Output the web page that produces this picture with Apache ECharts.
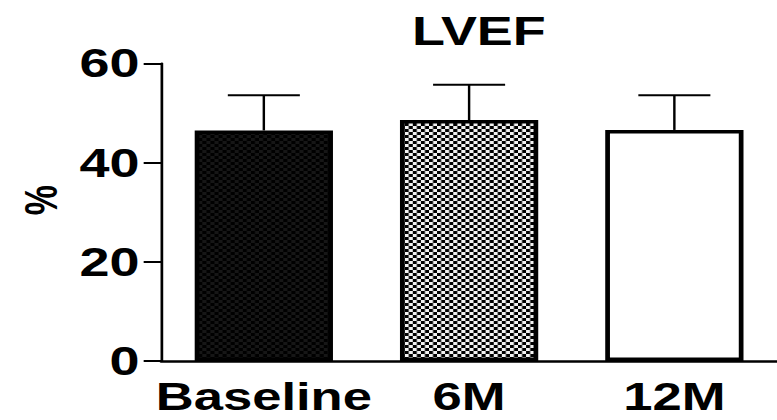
<!DOCTYPE html>
<html>
<head>
<meta charset="utf-8">
<script src="https://cdn.jsdelivr.net/npm/echarts@6/dist/echarts.min.js"></script>
<style>
html,body{margin:0;padding:0;background:#fff;overflow:hidden;}
#chart{width:576px;height:420px;transform:scaleX(1.348958);transform-origin:0 0;}
</style>
</head>
<body>
<div id="chart"></div>
<script>
const title = 'LVEF';
const yName = '%';
const categories = ['Baseline', '6M', '12M'];
const means = [46.5, 48.6, 46.6];
const sds = [7.1, 7.1, 7.0];
const yMin = 0, yMax = 60, yStep = 20;

function checker(c1, c2, cell) {
  const cv = document.createElement('canvas');
  cv.width = cell * 2; cv.height = cell * 2;
  const ctx = cv.getContext('2d');
  ctx.fillStyle = c1; ctx.fillRect(0, 0, cell * 2, cell * 2);
  ctx.fillStyle = c2;
  ctx.fillRect(0, 0, cell, cell);
  ctx.fillRect(cell, cell, cell, cell);
  return cv;
}
const fills = [
  { image: checker('#000000', '#161616', 3), repeat: 'repeat' },
  { image: checker('#000000', '#f2f2f2', 3), repeat: 'repeat' },
  '#ffffff'
];

const FONT = '"Liberation Sans", Arial, sans-serif';
const chart = echarts.init(document.getElementById('chart'), null, { renderer: 'svg' });
chart.setOption({
  animation: false,
  backgroundColor: '#ffffff',
  title: {
    text: title, left: 350, top: 6, textAlign: 'center',
    textStyle: { fontFamily: FONT, fontWeight: 'bold', fontSize: 40, color: '#000' }
  },
  grid: { left: 119.5, top: 63.5, width: 462, height: 297.5, containLabel: false },
  xAxis: {
    type: 'category', data: categories, boundaryGap: true,
    axisLine: { lineStyle: { color: '#000', width: 2.5 } },
    axisTick: { alignWithLabel: true, length: 12, lineStyle: { color: '#000', width: 2 } },
    axisLabel: { interval: 0, hideOverlap: false, margin: 16, fontFamily: FONT, fontWeight: 'bold', fontSize: 39, color: '#000' },
    splitLine: { show: false }
  },
  yAxis: {
    type: 'value', min: yMin, max: yMax, interval: yStep,
    name: yName, nameLocation: 'middle', nameRotate: 90, nameGap: 72,
    nameTextStyle: { fontFamily: FONT, fontWeight: 'bold', fontSize: 34, color: '#000', padding: [0, 0, 0, 24] },
    axisLine: { show: true, lineStyle: { color: '#000', width: 2 } },
    axisTick: { show: true, length: 13, lineStyle: { color: '#000', width: 2 } },
    axisLabel: { margin: 16, fontFamily: FONT, fontWeight: 'bold', fontSize: 40, color: '#000' },
    splitLine: { show: false }
  },
  series: [
    {
      type: 'bar', barWidth: 102.5, z: 2,
      data: means.map((v, i) => ({
        value: v,
        itemStyle: { color: fills[i], borderColor: '#000', borderWidth: 3.5 }
      }))
    },
    {
      type: 'custom', z: 3,
      encode: { x: 0, y: 1 },
      data: means.map((v, i) => [i, v, sds[i]]),
      renderItem: function (params, api) {
        const x = api.value(0), m = api.value(1), e = api.value(2);
        const base = api.coord([x, m]);
        const top = api.coord([x, m + e]);
        const hw = 26.7;
        return {
          type: 'group',
          children: [
            { type: 'line', shape: { x1: base[0], y1: base[1], x2: top[0], y2: top[1] }, style: { stroke: '#000', lineWidth: 1.8 } },
            { type: 'line', shape: { x1: top[0] - hw, y1: top[1], x2: top[0] + hw, y2: top[1] }, style: { stroke: '#000', lineWidth: 2 } }
          ]
        };
      }
    }
  ]
});
</script>
</body>
</html>
